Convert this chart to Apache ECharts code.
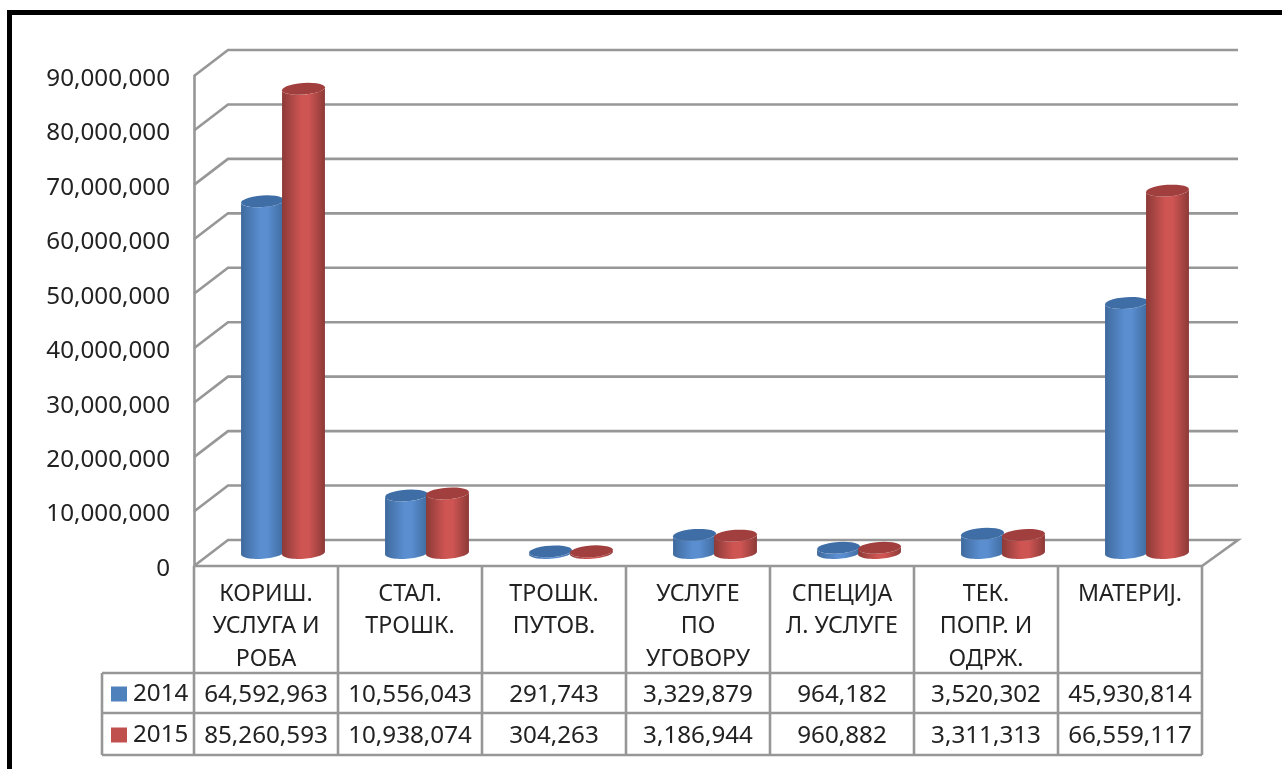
<!DOCTYPE html>
<html><head><meta charset="utf-8">
<style>html,body{margin:0;padding:0;background:#fff}#c{width:1282px;height:769px}</style>
<script src="https://cdn.jsdelivr.net/npm/echarts@6/dist/echarts.min.js"></script>
</head><body><div id="c"></div>
<script>
var categories = ['КОРИШ.\nУСЛУГА И\nРОБА','СТАЛ.\nТРОШК.','ТРОШК.\nПУТОВ.','УСЛУГЕ\nПО\nУГОВОРУ','СПЕЦИЈА\nЛ. УСЛУГЕ','ТЕК.\nПОПР. И\nОДРЖ.','МАТЕРИЈ.'];
var values2014 = [64592963,10556043,291743,3329879,964182,3520302,45930814];
var values2015 = [85260593,10938074,304263,3186944,960882,3311313,66559117];
var yTicks = [0,10000000,20000000,30000000,40000000,50000000,60000000,70000000,80000000,90000000];
var blue = {edge:'#3f6a9e', mid:'#5a8ed0', top:'#3f6ea6', key:'#4f81bd'};
var red = {edge:'#8c3a38', mid:'#cf5553', top:'#a03f3d', key:'#c0504d'};
var lineColor = '#979797', textColor = '#222', fontFam = '"Noto Sans", sans-serif';
var depthX = 34, depthY = 26, fs = 24.2;
function fmt(v){return String(v).replace(/\B(?=(\d{3})+$)/g,',');}
function pairs(a){return a.map(function(v,i){return [i,v];});}

function wall(params, api){
  var p = api.coord([0, api.value(0)]), size = api.size([1,0])[0];
  var x0 = p[0]-size/2, y = p[1], x1 = x0 + size*categories.length;
  var pts = [[x0,y],[x0+depthX,y-depthY],[x1+depthX+2,y-depthY]];
  if (api.value(0)===0) pts.push([x1,y]);
  return {type:'polyline',shape:{points:pts},style:{fill:null,stroke:lineColor,lineWidth:2.6}};
}
function ellipsePts(cx,cy,rx,ry,tilt,a0,a1){
  var out=[],n=28,c=Math.cos(tilt),s=Math.sin(tilt);
  for(var i=0;i<=n;i++){var a=a0+(a1-a0)*i/n,x=rx*Math.cos(a),y=ry*Math.sin(a);out.push([cx+x*c-y*s,cy+x*s+y*c]);}
  return out;
}
function cylinder(side,col){
  return function(params,api){
    var i=api.value(0),b=api.coord([i,0]),t=api.coord([i,api.value(1)]);
    var cx=b[0]+17+side*20.5,by=b[1]-depthY/2,ty=t[1]-depthY/2,rx=21.5,ry=5.8,tilt=-0.07;
    var body=ellipsePts(cx,by,rx,ry,tilt,0,Math.PI);
    var top=ellipsePts(cx,ty,rx,ry,tilt,Math.PI,0);
    var grad=new echarts.graphic.LinearGradient(0,0,1,0,[{offset:0,color:col.edge},{offset:.45,color:col.mid},{offset:.62,color:col.mid},{offset:1,color:col.edge}]);
    return {type:'group',children:[
      {type:'polygon',shape:{points:body.concat(top)},style:{fill:grad}},
      {type:'polygon',shape:{points:ellipsePts(cx,ty,rx,ry,tilt,0,Math.PI*2)},style:{fill:col.top}}
    ]};
  };
}
function tableRender(params,api){
  var i=api.value(0),p=api.coord([i,0]),w=api.size([1,0])[0],y0=p[1],l=p[0]-w/2,r=p[0]+w/2;
  var r1=y0+107,r2=y0+147,r3=y0+189,ch=[];
  function ln(a,b,c,d){ch.push({type:'line',shape:{x1:a,y1:b,x2:c,y2:d},style:{stroke:lineColor,lineWidth:2.6}});}
  function tx(s,y){ch.push({type:'text',style:{text:s,x:p[0],y:y,align:'center',verticalAlign:'middle',fontSize:fs,fontFamily:fontFam,fill:textColor}});}
  ln(l,y0,r,y0);ln(l,r1,r,r1);ln(l,r2,r,r2);ln(l,r3,r,r3);ln(r,y0,r,r3);
  if(i===0){ln(l,y0,l,r3);ln(l-92,r1,l,r1);ln(l-92,r2,l,r2);ln(l-92,r3,l,r3);ln(l-92,r1,l-92,r3);}
  tx(fmt(api.value(1)),y0+129);tx(fmt(api.value(2)),y0+170);
  return {type:'group',children:ch};
}
var chart=echarts.init(document.getElementById('c'),null,{renderer:'canvas'});
chart.setOption({
  animation:false,backgroundColor:'#fff',
  grid:{left:194,top:76,width:1008,height:490,containLabel:false},
  legend:{data:[{name:'2014'},{name:'2015'}],orient:'vertical',left:106,top:677,itemWidth:16,itemHeight:15,itemGap:17,icon:'rect',selectedMode:false,
    textStyle:{fontSize:fs,fontFamily:fontFam,color:textColor,padding:[0,0,0,1]}},
  xAxis:{type:'category',data:categories,axisLine:{show:false},axisTick:{show:false},splitLine:{show:false},
    axisLabel:{interval:0,margin:12,fontSize:23.2,lineHeight:32.5,fontFamily:fontFam,color:textColor,align:'center',verticalAlign:'top'}},
  yAxis:{type:'value',min:0,max:90000000,interval:10000000,axisTick:{show:false},splitLine:{show:false},
    axisLine:{show:true,lineStyle:{color:lineColor,width:2.6}},
    axisLabel:{margin:24,fontSize:fs,fontFamily:fontFam,color:textColor,verticalAlign:'top',lineHeight:6,formatter:function(v){return fmt(v);}}},
  graphic:[
    {type:'rect',shape:{x:7,y:10,width:1275,height:5},style:{fill:'#000'}},
    {type:'rect',shape:{x:7,y:10,width:5,height:759},style:{fill:'#000'}}
  ],
  series:[
    {type:'custom',silent:true,renderItem:wall,data:yTicks.map(function(v){return [v];}),encode:{y:0},z:1},
    {type:'custom',silent:true,renderItem:tableRender,data:categories.map(function(c,i){return [i,values2014[i],values2015[i]];}),encode:{x:0},z:1},
    {type:'custom',name:'2014',silent:true,renderItem:cylinder(-1,blue),itemStyle:{color:blue.key},data:pairs(values2014),encode:{x:0,y:1},z:3},
    {type:'custom',name:'2015',silent:true,renderItem:cylinder(1,red),itemStyle:{color:red.key},data:pairs(values2015),encode:{x:0,y:1},z:4}
  ]
});
</script></body></html>
